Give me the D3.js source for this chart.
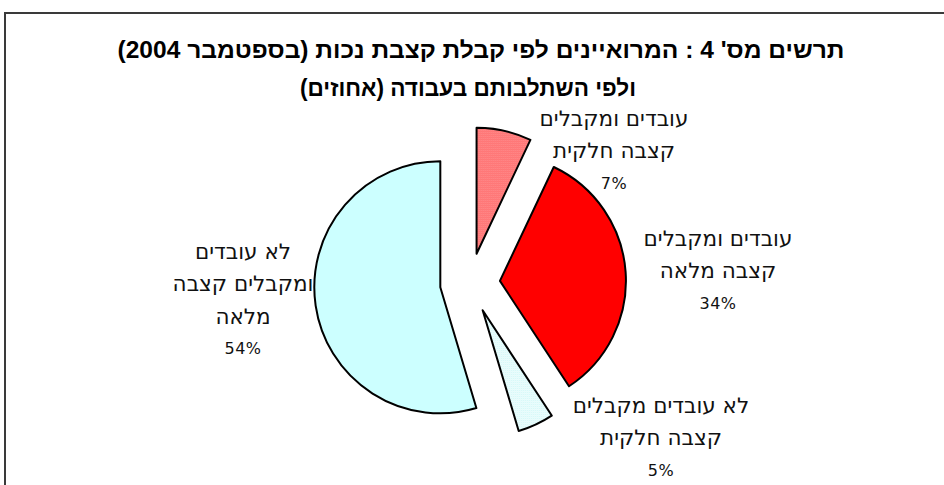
<!DOCTYPE html>
<html>
<head>
<meta charset="utf-8">
<script src="https://cdn.jsdelivr.net/npm/d3@7"></script>
<style>
  html, body { margin: 0; padding: 0; background: #fff; }
  svg { display: block; }
</style>
</head>
<body>
<svg id="chart" width="944" height="485"></svg>
<script>
// ---- data ----
const categories = [
  "עובדים ומקבלים קצבה חלקית",
  "עובדים ומקבלים קצבה מלאה",
  "לא עובדים מקבלים קצבה חלקית",
  "לא עובדים ומקבלים קצבה מלאה"
];
// underlying shares (percent), labels show them rounded
const values = [7.0, 33.6, 4.6, 54.4];
const labelLines = [
  ["עובדים ומקבלים", "קצבה חלקית"],
  ["עובדים ומקבלים", "קצבה מלאה"],
  ["לא עובדים מקבלים", "קצבה חלקית"],
  ["לא עובדים", "ומקבלים קצבה", "מלאה"]
];
const titleLines = [
  "תרשים מס' 4 :  המרואיינים לפי קבלת  קצבת נכות (בספטמבר 2004)",
  "ולפי  השתלבותם בעבודה (אחוזים)"
];

// ---- layout ----
const W = 944, H = 485;
const cx = 470, cy = 283, R = 126, explode = 30;
const fills = ["url(#pinkDots)", "#FF0000", "url(#cyanDots)", "#CCFFFF"];
const labelAnchors = [[614, 118], [718, 238], [661, 405], [243, 251]];
const lineGap = 32.5;

const svg = d3.select("#chart");

// patterns
const defs = svg.append("defs");
const p1 = defs.append("pattern").attr("id", "pinkDots").attr("patternUnits", "userSpaceOnUse")
  .attr("width", 2).attr("height", 2);
p1.append("rect").attr("width", 2).attr("height", 2).attr("fill", "#FF5A5A");
p1.append("rect").attr("width", 1).attr("height", 1).attr("fill", "#FFB3B3");
p1.append("rect").attr("x", 1).attr("y", 1).attr("width", 1).attr("height", 1).attr("fill", "#FF8C8C");
const p2 = defs.append("pattern").attr("id", "cyanDots").attr("patternUnits", "userSpaceOnUse")
  .attr("width", 2).attr("height", 2);
p2.append("rect").attr("width", 2).attr("height", 2).attr("fill", "#FFFFFF");
p2.append("rect").attr("width", 1).attr("height", 1).attr("fill", "#B8F4F4");
p2.append("rect").attr("x", 1).attr("y", 1).attr("width", 1).attr("height", 1).attr("fill", "#D8FAFA");

// frame
svg.append("path")
  .attr("d", d3.line()([[5, H], [5, 13], [W, 13]]))
  .attr("fill", "none").attr("stroke", "#3a3a3a").attr("stroke-width", 2);

// title
svg.append("g").selectAll("text").data(titleLines).join("text")
  .attr("x", (d, i) => i === 0 ? 481 : 468)
  .attr("y", (d, i) => 58 + i * 38)
  .attr("text-anchor", "middle")
  .attr("direction", "rtl")
  .attr("font-family", "'Liberation Sans', Arial, sans-serif")
  .attr("font-weight", "bold")
  .attr("font-size", 23)
  .attr("fill", "#000")
  .attr("textLength", (d, i) => i === 0 ? 727 : 336)
  .attr("lengthAdjust", "spacingAndGlyphs")
  .text(d => d);

// pie
const pie = d3.pie().sort(null).value(d => d)(values);
const arc = d3.arc().innerRadius(0).outerRadius(R);

const slices = svg.append("g").attr("transform", `translate(${cx},${cy})`);
slices.selectAll("path").data(pie).join("path")
  .attr("transform", d => {
    const a = (d.startAngle + d.endAngle) / 2;
    return `translate(${explode * Math.sin(a)},${-explode * Math.cos(a)})`;
  })
  .attr("d", arc)
  .attr("fill", (d, i) => fills[i])
  .attr("stroke", "#000")
  .attr("stroke-width", 2)
  .attr("stroke-linejoin", "round");

// labels
const lg = svg.append("g")
  .attr("font-family", "'DejaVu Sans', Tahoma, sans-serif")
  .attr("font-size", 21.5)
  .attr("fill", "#111")
  .attr("text-anchor", "middle");
pie.forEach((d, i) => {
  const lines = labelLines[i].concat([Math.round(values[i]) + "%"]);
  const [ax, ay] = labelAnchors[i];
  lg.selectAll(null).data(lines).join("text")
    .attr("x", ax)
    .attr("y", (t, j) => ay + j * lineGap)
    .attr("dy", "0.35em")
    .attr("direction", (t, j) => j < lines.length - 1 ? "rtl" : "ltr")
    .attr("font-size", (t, j) => j < lines.length - 1 ? null : 16)
    .attr("letter-spacing", (t, j) => j < lines.length - 1 ? null : 0.5)
    .text(t => t);
});
</script>
</body>
</html>
